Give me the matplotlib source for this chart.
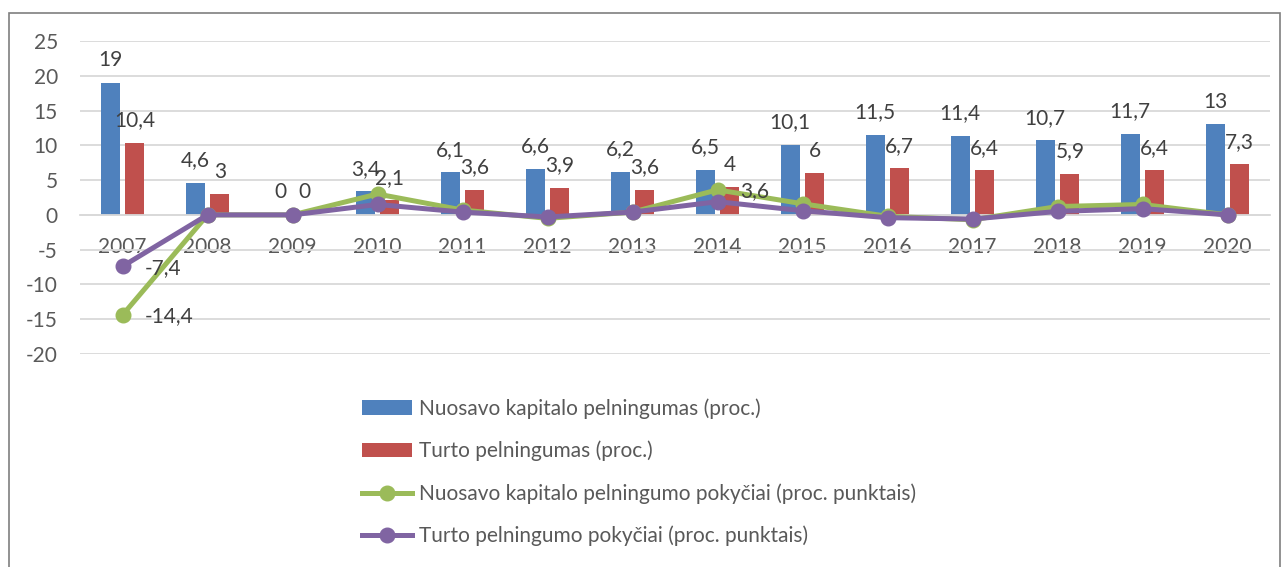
import matplotlib.pyplot as plt
import numpy as np
from matplotlib.patches import Rectangle

years = ["2007", "2008", "2009", "2010", "2011", "2012", "2013",
         "2014", "2015", "2016", "2017", "2018", "2019", "2020"]

equity_return = [19, 4.6, 0, 3.4, 6.1, 6.6, 6.2, 6.5, 10.1, 11.5, 11.4, 10.7, 11.7, 13]
asset_return = [10.4, 3, 0, 2.1, 3.6, 3.9, 3.6, 4, 6, 6.7, 6.4, 5.9, 6.4, 7.3]
equity_change = [-14.4, 0, 0, 3.0, 0.7, -0.5, 0.4, 3.6, 1.6, -0.2, -0.7, 1.2, 1.5, 0]
asset_change = [-7.4, 0, 0, 1.5, 0.4, -0.3, 0.4, 1.9, 0.6, -0.4, -0.6, 0.5, 0.9, 0]

# only these points carry a data label in the original chart
equity_change_labeled = [0, 7]
asset_change_labeled = [0]

series_names = [
    "Nuosavo kapitalo pelningumas (proc.)",
    "Turto pelningumas (proc.)",
    "Nuosavo kapitalo pelningumo pokyčiai (proc. punktais)",
    "Turto pelningumo pokyčiai (proc. punktais)",
]

BLUE = "#4F81BD"
RED = "#C0504D"
GREEN = "#9BBB59"
PURPLE = "#8064A2"
TEXT = "#404040"
TICK = "#595959"
GRID = "#D9D9D9"

FONT = "Lato"
FS = 15


def fmt(v):
    return f"{v:g}".replace(".", ",")


def main():
    plt.rcParams["font.family"] = [FONT, "DejaVu Sans"]
    plt.rcParams["axes.unicode_minus"] = False

    fig = plt.figure(figsize=(12.88, 5.67), dpi=100)
    ax = fig.add_axes([80 / 1288, 1 - 354 / 567, 1190 / 1288, 313 / 567])

    x = np.arange(len(years))
    width = 0.22
    offset = 0.145

    b1 = ax.bar(x - offset, equity_return, width, color=BLUE, label=series_names[0], zorder=2)
    b2 = ax.bar(x + offset, asset_return, width, color=RED, label=series_names[1], zorder=2)

    l1, = ax.plot(x, equity_change, color=GREEN, lw=3.6, marker="o", ms=10.5,
                  label=series_names[2], zorder=3)
    l2, = ax.plot(x, asset_change, color=PURPLE, lw=3.6, marker="o", ms=10.5,
                  label=series_names[3], zorder=4)

    for xs, vals in ((x - offset, equity_return), (x + offset, asset_return)):
        for xi, v in zip(xs, vals):
            ax.annotate(fmt(v), (xi, v), xytext=(0, 9), textcoords="offset points",
                        ha="center", va="bottom", fontsize=FS, color=TEXT, zorder=5)

    for idx_list, vals in ((equity_change_labeled, equity_change),
                           (asset_change_labeled, asset_change)):
        for i in idx_list:
            ax.annotate(fmt(vals[i]), (x[i], vals[i]), xytext=(16, -1),
                        textcoords="offset points", ha="left", va="center",
                        fontsize=FS, color=TEXT, zorder=5)

    ax.set_xlim(-0.5, len(years) - 0.5)
    ax.set_ylim(-20, 25)
    ax.set_yticks(range(-20, 26, 5))
    ax.set_xticks(x)
    ax.set_xticklabels(years)

    ax.yaxis.grid(True, color=GRID, lw=1.3, zorder=0)
    ax.set_axisbelow(True)
    for side in ("top", "right", "left"):
        ax.spines[side].set_visible(False)
    ax.spines["bottom"].set_position(("data", 0))
    ax.spines["bottom"].set_color(GRID)
    ax.spines["bottom"].set_linewidth(1.3)

    ax.tick_params(axis="x", length=0, pad=16, labelsize=FS, labelcolor=TICK)
    ax.tick_params(axis="y", length=0, pad=16, labelsize=FS, labelcolor=TICK)

    fig.legend(handles=[b1, b2, l1, l2], loc="upper left",
               bbox_to_anchor=(352 / 1288, 1 - 388 / 567), frameon=False,
               fontsize=FS, labelcolor=TICK, handlelength=2.4,
               handletextpad=0.3, labelspacing=1.05, borderpad=0)

    # chart outer border
    fig.patches.append(Rectangle((8.5 / 1288, -0.05), 1271 / 1288, 1.05 - 12.5 / 567,
                                 transform=fig.transFigure, fill=False,
                                 edgecolor="#7F7F7F", lw=1.2))

    fig.savefig("out.png", dpi=100)


if __name__ == "__main__":
    main()
